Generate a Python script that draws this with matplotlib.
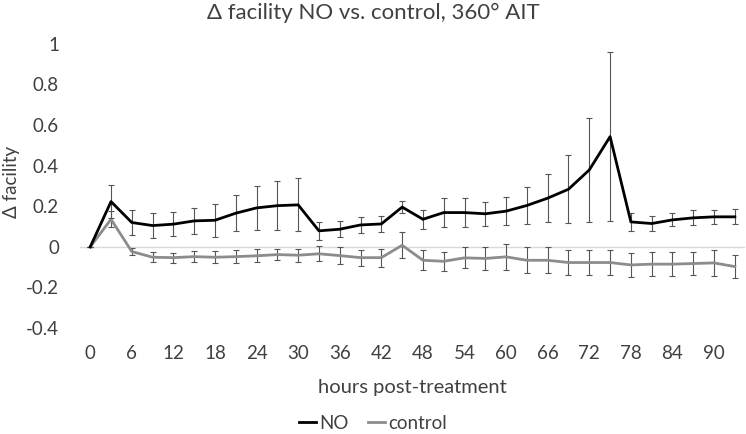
import matplotlib.pyplot as plt
from matplotlib.lines import Line2D

plt.rcParams['font.family'] = ['Lato', 'DejaVu Sans']

# hours post-treatment, one point every 3 h
hours = list(range(0, 94, 3))

no_mean = [0, 0.223, 0.12, 0.105, 0.112, 0.128, 0.131, 0.166, 0.192, 0.203, 0.207,
           0.079, 0.087, 0.108, 0.113, 0.196, 0.136, 0.169, 0.169, 0.163, 0.176,
           0.204, 0.24, 0.284, 0.379, 0.543, 0.123, 0.115, 0.133, 0.143, 0.148, 0.148]
no_err = [0, 0.08, 0.06, 0.06, 0.06, 0.065, 0.08, 0.09, 0.11, 0.12, 0.13,
          0.045, 0.04, 0.04, 0.04, 0.03, 0.047, 0.07, 0.072, 0.06, 0.07,
          0.09, 0.117, 0.167, 0.258, 0.417, 0.045, 0.035, 0.032, 0.037, 0.035, 0.037]

ctrl_mean = [0, 0.136, -0.023, -0.051, -0.053, -0.048, -0.051, -0.048, -0.044, -0.038, -0.041,
             -0.034, -0.043, -0.053, -0.053, 0.008, -0.066, -0.071, -0.054, -0.057, -0.049,
             -0.066, -0.066, -0.077, -0.077, -0.077, -0.089, -0.085, -0.085, -0.082, -0.079, -0.097]
ctrl_err = [0, 0.04, 0.018, 0.025, 0.024, 0.027, 0.029, 0.032, 0.032, 0.028, 0.033,
            0.037, 0.04, 0.04, 0.045, 0.065, 0.05, 0.047, 0.052, 0.058, 0.065,
            0.064, 0.064, 0.06, 0.06, 0.06, 0.059, 0.06, 0.06, 0.058, 0.062, 0.055]

x_ticks = list(range(0, 91, 6))
y_ticks = [-0.4, -0.2, 0, 0.2, 0.4, 0.6, 0.8, 1]
y_labels = ['-0.4', '-0.2', '0', '0.2', '0.4', '0.6', '0.8', '1']

no_color = 'black'
ctrl_color = '#8c8c8c'
txt = '#404040'

fig = plt.figure(figsize=(7.46, 4.34), dpi=100)
ax = fig.add_axes([0.107, 0.244, 0.892, 0.655])

ax.axhline(0, color='#d9d9d9', lw=1, zorder=1)

ax.errorbar(hours, no_mean, yerr=no_err, color=no_color, lw=2, ecolor='#555555',
            elinewidth=0.8, capsize=2.5, capthick=0.8, zorder=3)
ax.errorbar(hours, ctrl_mean, yerr=ctrl_err, color=ctrl_color, lw=2, ecolor='#555555',
            elinewidth=0.8, capsize=2.5, capthick=0.8, zorder=2)

ax.set_xlim(-1.5, 94.5)
ax.set_ylim(-0.4, 1)
ax.set_xticks(x_ticks)
ax.set_yticks(y_ticks)
ax.set_yticklabels(y_labels)
for s in ax.spines.values():
    s.set_visible(False)
ax.tick_params(length=0, labelsize=13.5, colors=txt)
ax.tick_params(axis='x', pad=12)
ax.tick_params(axis='y', pad=15)

fig.suptitle('\u0394 facility NO vs. control, 360\u00b0 AIT', fontsize=16, color=txt,
             x=0.5, y=0.970, va='center')
ax.set_xlabel('hours post-treatment', fontsize=14.5, color=txt, va='center')
ax.xaxis.set_label_coords(0.5, -0.208)
ax.set_ylabel('\u0394 facility', fontsize=13.5, color=txt, va='center')
ax.yaxis.set_label_coords(-0.102, 0.514)

handles = [Line2D([], [], color=no_color, lw=2), Line2D([], [], color=ctrl_color, lw=2)]
leg = fig.legend(handles, ['NO', 'control'], loc='center', bbox_to_anchor=(0.5, 0.025),
                 ncol=2, frameon=False, fontsize=13.5, handlelength=0.9,
                 handletextpad=0.2, columnspacing=1.0, borderpad=0)
for t in leg.get_texts():
    t.set_color(txt)

fig.savefig('out.png', dpi=100)
